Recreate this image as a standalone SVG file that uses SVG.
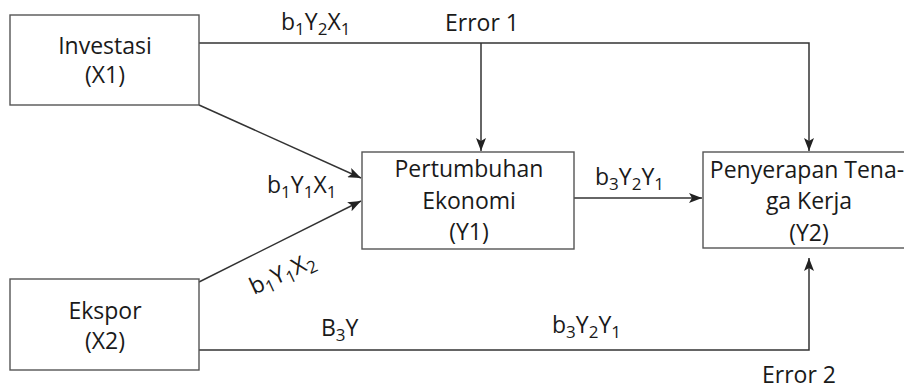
<svg xmlns="http://www.w3.org/2000/svg" width="904" height="389" viewBox="0 0 904 389">
<style>
.box{fill:#fff;stroke:#555;stroke-width:1.4}
.ln{fill:none;stroke:#333;stroke-width:1.5}
text{font-family:"Open Sans","Noto Sans","DejaVu Sans",sans-serif;font-size:23px;fill:#1a1a1a}
.c{text-anchor:middle}
.s{font-size:17px}
</style>
<defs>
<marker id="ah" markerUnits="userSpaceOnUse" markerWidth="14" markerHeight="10" refX="13" refY="5" orient="auto" viewBox="0 0 14 10">
<path d="M0,0 L13,5 L0,10 L3,5 z" fill="#222"/>
</marker>
</defs>
<g id="connectors">
<line class="ln" x1="199" y1="105" x2="361" y2="178" marker-end="url(#ah)"/>
<line class="ln" x1="199" y1="282" x2="361" y2="201" marker-end="url(#ah)"/>
<polyline class="ln" points="199,43 809,43 809,151" marker-end="url(#ah)"/>
<line class="ln" x1="481" y1="43" x2="481" y2="151" marker-end="url(#ah)"/>
<line class="ln" x1="574" y1="198" x2="702" y2="198" marker-end="url(#ah)"/>
<polyline class="ln" points="199,350 809,350 809,258" marker-end="url(#ah)"/>
<text x="281" y="30">b<tspan class="s" dy="5">1</tspan><tspan dy="-5">Y</tspan><tspan class="s" dy="5">2</tspan><tspan dy="-5">X</tspan><tspan class="s" dy="5">1</tspan></text>
<text x="445" y="31">Error 1</text>
<text x="267" y="193">b<tspan class="s" dy="5">1</tspan><tspan dy="-5">Y</tspan><tspan class="s" dy="5">1</tspan><tspan dy="-5">X</tspan><tspan class="s" dy="5">1</tspan></text>
<text x="595" y="185">b<tspan class="s" dy="5">3</tspan><tspan dy="-5">Y</tspan><tspan class="s" dy="5">2</tspan><tspan dy="-5">Y</tspan><tspan class="s" dy="5">1</tspan></text>
<text transform="translate(254,295) rotate(-25)">b<tspan class="s" dy="5">1</tspan><tspan dy="-5">Y</tspan><tspan class="s" dy="5">1</tspan><tspan dy="-5">X</tspan><tspan class="s" dy="5">2</tspan></text>
<text x="321" y="336">B<tspan class="s" dy="5">3</tspan><tspan dy="-5">Y</tspan></text>
<text x="552" y="333">b<tspan class="s" dy="5">3</tspan><tspan dy="-5">Y</tspan><tspan class="s" dy="5">2</tspan><tspan dy="-5">Y</tspan><tspan class="s" dy="5">1</tspan></text>
<text x="762" y="383">Error 2</text>
</g>
<g id="x1">
<rect class="box" x="10" y="15" width="189" height="90"/>
<text class="c" x="105" y="54">Investasi</text>
<text class="c" x="105" y="83">(X1)</text>
</g>
<g id="x2">
<rect class="box" x="10" y="279" width="189" height="91"/>
<text class="c" x="105" y="319">Ekspor</text>
<text class="c" x="105" y="349">(X2)</text>
</g>
<g id="y1">
<rect class="box" x="362" y="152" width="212" height="97"/>
<text class="c" x="469" y="177">Pertumbuhan</text>
<text class="c" x="469" y="209">Ekonomi</text>
<text class="c" x="469" y="240">(Y1)</text>
</g>
<g id="y2">
<rect class="box" x="703" y="152" width="210" height="96"/>
<text class="c" x="807" y="178">Penyerapan Tena-</text>
<text class="c" x="809" y="209">ga Kerja</text>
<text class="c" x="809" y="241">(Y2)</text>
</g>
</svg>
